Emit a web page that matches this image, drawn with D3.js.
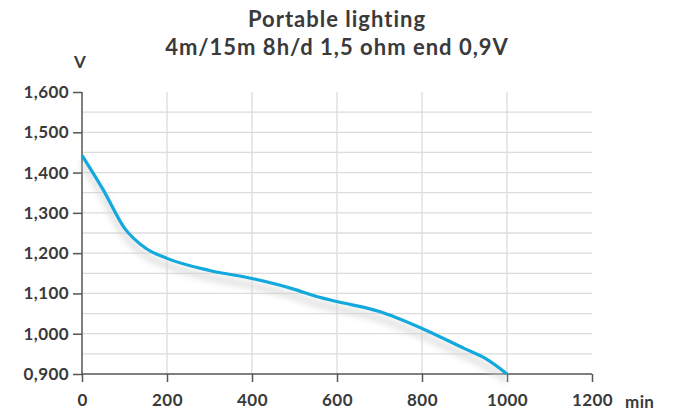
<!DOCTYPE html>
<html>
<head>
<meta charset="utf-8">
<script src="https://cdn.jsdelivr.net/npm/d3@7"></script>
<style>
  body { margin: 0; background: #fff; }
  text { font-family: Lato, "Open Sans", sans-serif; fill: #3a3a3a; }
</style>
</head>
<body>
<svg id="chart" width="678" height="414"></svg>
<script>
var titleLines = ['Portable lighting', '4m/15m 8h/d 1,5 ohm end 0,9V'];

// discharge curve
var minutes = [0, 50, 100, 150, 200, 300, 400, 500, 550, 600, 700, 800, 900, 950, 1000];
var volts = [1.443, 1.357, 1.262, 1.212, 1.187, 1.157, 1.137, 1.11, 1.093, 1.08, 1.055, 1.013, 0.963, 0.938, 0.9];

var xTicks = [0, 200, 400, 600, 800, 1000, 1200];
var yTicks = [0.9, 1.0, 1.1, 1.2, 1.3, 1.4, 1.5, 1.6];
var yGrid = [0.95, 1.0, 1.05, 1.1, 1.15, 1.2, 1.25, 1.3, 1.35, 1.4, 1.45, 1.5, 1.55];
var xGrid = [200, 400, 600, 800, 1000];

var svg = d3.select('#chart'),
  plotLeft = 82,
  plotRight = 592,
  plotTop = 92,
  plotBottom = 374;

var x = d3.scaleLinear().domain([0, 1200]).range([plotLeft, plotRight]);
var y = d3.scaleLinear().domain([0.9, 1.6]).range([plotBottom, plotTop]);

var points = minutes.map(function(m, i) { return [m, volts[i]]; });

// soft shadow under the curve
var defs = svg.append('defs');
var f = defs.append('filter').attr('id', 'shadow')
  .attr('x', '-10%').attr('y', '-20%').attr('width', '120%').attr('height', '160%');
f.append('feGaussianBlur').attr('stdDeviation', 3.5);

// grid
svg.append('g').selectAll('line').data(yGrid).enter().append('line')
  .attr('x1', plotLeft).attr('x2', plotRight)
  .attr('y1', function(d) { return y(d); })
  .attr('y2', function(d) { return y(d); })
  .style('stroke', '#dcdcdc').style('stroke-width', 1.3);

svg.append('g').selectAll('line').data(xGrid).enter().append('line')
  .attr('x1', function(d) { return x(d); })
  .attr('x2', function(d) { return x(d); })
  .attr('y1', plotTop).attr('y2', plotBottom)
  .style('stroke', '#dcdcdc').style('stroke-width', 1.3);

// axes
var fmt = function(d) { return d3.format('.3f')(d).replace('.', ','); };

var yAxis = svg.append('g')
  .attr('transform', 'translate(' + plotLeft + ',0)')
  .call(d3.axisLeft(y).tickValues(yTicks).tickSize(9).tickPadding(4).tickFormat(fmt));

var xAxis = svg.append('g')
  .attr('transform', 'translate(0,' + plotBottom + ')')
  .call(d3.axisBottom(x).tickValues(xTicks).tickSize(8).tickPadding(12).tickFormat(d3.format('d')));

[yAxis, xAxis].forEach(function(a) {
  a.select('.domain').style('stroke', '#555').style('stroke-width', 1.5);
  a.selectAll('.tick line').style('stroke', '#555').style('stroke-width', 1.5);
  a.selectAll('.tick text')
    .style('font-family', 'Lato, sans-serif')
    .style('font-size', '17px').style('font-weight', 700)
    .style('letter-spacing', '0.4px').style('fill', '#3a3a3a');
});
yAxis.select('.domain').attr('d', 'M0,' + plotTop + 'V' + plotBottom);
xAxis.select('.domain').attr('d', 'M' + plotLeft + ',0H' + plotRight);

// curve
var line = d3.line()
  .x(function(d) { return x(d[0]); })
  .y(function(d) { return y(d[1]); })
  .curve(d3.curveMonotoneX);

svg.append('path').datum(points)
  .attr('d', line)
  .attr('transform', 'translate(0,7)')
  .attr('filter', 'url(#shadow)')
  .style('fill', 'none')
  .style('stroke', '#cfcfcf')
  .style('stroke-width', 4);

svg.append('path').datum(points)
  .attr('d', line)
  .style('fill', 'none')
  .style('stroke', '#14a9de')
  .style('stroke-width', 3.2);

// titles and units
svg.selectAll('.title').data(titleLines).enter().append('text')
  .attr('class', 'title')
  .attr('x', 337)
  .attr('y', function(d, i) { return 27 + i * 28; })
  .attr('text-anchor', 'middle')
  .style('font-size', '22px')
  .style('font-weight', 700)
  .style('letter-spacing', '1px')
  .text(function(d) { return d; });

svg.append('text').attr('x', 80).attr('y', 68).attr('text-anchor', 'middle')
  .style('font-size', '17px').style('font-weight', 700).text('V');

svg.append('text').attr('x', 625).attr('y', 408)
  .style('font-size', '17px').style('font-weight', 700)
  .style('letter-spacing', '0.4px').text('min');
</script>
</body>
</html>
